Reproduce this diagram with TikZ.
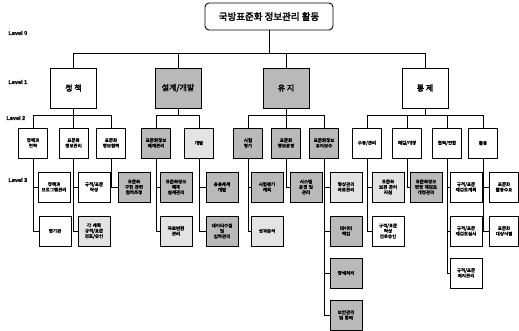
\documentclass[tikz,border=0pt]{standalone}
\usepackage{fontspec}
\newfontfamily\kr[BoldFont={Noto Sans CJK KR}, BoldFeatures={FakeBold=2.5}]{Noto Sans CJK KR}
\newfontfamily\lat[BoldFeatures={FakeBold=1.5}]{Liberation Sans}
\begin{document}
\begin{tikzpicture}[x=1pt,y=-1pt,
  box/.style={draw, line width=0.9pt, align=center, inner sep=0.5pt, font=\kr\bfseries\fontsize{4.5}{5.4}\selectfont},
  ttl/.style={box, rounded corners=4pt, minimum width=128pt, minimum height=27pt, font=\kr\bfseries\fontsize{9.5}{11}\selectfont},
  lone/.style={box, minimum width=46pt, minimum height=40pt, font=\kr\bfseries\fontsize{8}{9}\selectfont},
  ltwo/.style={box, minimum width=29pt, minimum height=30pt},
  lthree/.style={box, minimum width=32pt, minimum height=30pt, text width=30pt},
  dk/.style={fill=gray!55},
  lt/.style={fill=gray!22},
  lvl/.style={font=\lat\bfseries\fontsize{5.5}{6}\selectfont, anchor=west},
  wire/.style={line width=0.8pt}]
\useasboundingbox (0,0) rectangle (519,331);

% level labels
\node[lvl] (lv0) at (5,33) {Level 0};
\node[lvl] (lv1) at (5,82) {Level 1};
\node[lvl] (lv2) at (3,118) {Level 2};
\node[lvl] (lv3) at (5,180) {Level 3};

% level 0
\node[ttl] (top) at (269,16.5) {국방표준화 정보관리 활동};

% level 1
\node[lone] (pa) at (73.5,88) {정 책};
\node[lone, dk] (pb) at (178,88) {설계/개발};
\node[lone, dk] (pc) at (286,88) {유 지};
\node[lone] (pd) at (425,88) {통 제};

\coordinate (bus0) at (269,53);
\draw[wire] (top.south) -- (bus0);
\foreach \n in {pa,pb,pc,pd} \draw[wire] (bus0) -| (\n.north);

% level 2
\node[ltwo] (A) at (33,143) {정책과\\전략};
\node[ltwo] (B) at (73.5,143) {표준화\\정보관리};
\node[ltwo] (C) at (111,143) {표준화\\정보협력};
\node[ltwo, dk] (D) at (156,143) {표준화정보\\체계관리};
\node[ltwo, lt] (E) at (199,143) {개발};
\node[ltwo, dk] (F) at (248,143) {시험\\평가};
\node[ltwo, dk] (G) at (286,143) {표준화\\정보운영};
\node[ltwo, dk] (H) at (324,143) {표준화정보\\유지보수};
\node[ltwo] (I) at (367,143) {수용/관리};
\node[ltwo] (J) at (407,143) {재검/개정};
\node[ltwo] (K) at (447,143) {협력/연합};
\node[ltwo] (L) at (483,143) {활용};

\coordinate (bus1) at (73.5,115);
\coordinate (bus2) at (178,115);
\coordinate (bus3) at (286,115);
\coordinate (bus4) at (425,115);
\draw[wire] (pa.south) -- (bus1);
\draw[wire] (pb.south) -- (bus2);
\draw[wire] (pc.south) -- (bus3);
\draw[wire] (pd.south) -- (bus4);
\foreach \n in {A,B,C} \draw[wire] (bus1) -| (\n.north);
\foreach \n in {D,E} \draw[wire] (bus2) -| (\n.north);
\foreach \n in {F,G,H} \draw[wire] (bus3) -| (\n.north);
\foreach \n in {I,J,K,L} \draw[wire] (bus4) -| (\n.north);

% level 3
\node[lthree] (A1) at (54,187) {정책과\\프로그램관리};
\node[lthree] (A2) at (55,231) {평가관};
\node[lthree] (B1) at (94,187) {규격/표준\\작성};
\node[lthree, lt] (B2) at (94,231) {각 계획\\규격/표준\\검토/승인};
\node[lthree, dk] (C1) at (134,187) {표준화\\구현 관련\\협력조정};
\node[lthree, dk] (D1) at (176,187) {표준화정보\\체계\\설계관리};
\node[lthree, lt] (D2) at (176,231) {자료변환\\관리};
\node[lthree, dk] (E1) at (222,187) {응용체계\\개발};
\node[lthree, dk] (E2) at (222,231) {데이터수집\\및\\입력관리};
\node[lthree, dk] (F1) at (267,187) {시험평가\\계획};
\node[lthree, lt] (F2) at (267,231) {성과분석};
\node[lthree, dk] (G1) at (306,187) {시스템\\운영 및\\관리};
\node[lthree, lt] (H1) at (346,187) {형상관리\\자료관리};
\node[lthree, dk] (H2) at (346,231) {데이터\\백업};
\node[lthree, dk] (H3) at (346,273) {장애처리};
\node[lthree, dk] (H4) at (346,315) {보안관리\\및 통제};
\node[lthree, lt] (I1) at (388,187) {표준화\\보관 관리\\지침};
\node[lthree] (I2) at (388,231) {규격/표준\\작성\\검토승인};
\node[lthree, dk] (J1) at (426,187) {표준화정보\\변경 재검토\\개정관리};
\node[lthree] (K1) at (466,187) {규격/표준\\재검토계획};
\node[lthree] (K2) at (466,231) {규격/표준\\재검토실시};
\node[lthree] (K3) at (466,273) {규격/표준\\폐지관리};
\node[lthree, minimum width=29pt, text width=27pt] (L1) at (504,187) {표준화\\활용수요};
\node[lthree, minimum width=29pt, text width=27pt] (L2) at (504,231) {표준화\\대상식별};

\foreach \p/\c in {A/A1,A/A2,B/B1,B/B2,C/C1,D/D1,D/D2,E/E1,E/E2,F/F1,F/F2,G/G1,H/H1,H/H2,H/H3,H/H4,I/I1,I/I2,J/J1,K/K1,K/K2,K/K3,L/L1,L/L2}
  \draw[wire] (\p.south) |- (\c.west);
\end{tikzpicture}
\end{document}
